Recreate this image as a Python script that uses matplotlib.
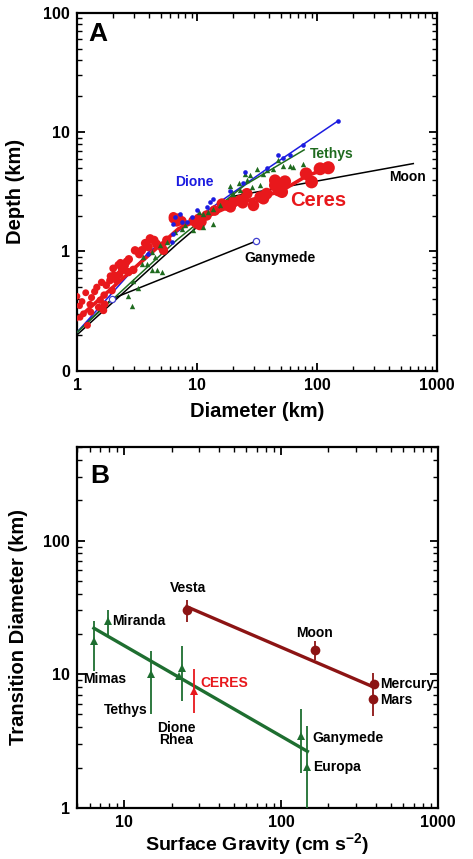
import numpy as np
import matplotlib.pyplot as plt
from matplotlib.ticker import LogLocator, NullFormatter

plt.rcParams['font.family'] = ['Liberation Sans', 'DejaVu Sans']
plt.rcParams['font.weight'] = 'bold'
plt.rcParams['axes.labelweight'] = 'bold'
plt.rcParams['mathtext.fontset'] = 'custom'
plt.rcParams['mathtext.rm'] = 'Liberation Sans:bold'
plt.rcParams['mathtext.default'] = 'rm'

# ---- panel A data: crater depth vs diameter (km) ----
ceres_D = [1.05, 1.06, 1.13, 1.22, 1.28, 1.32, 1.30, 1.46, 1.51, 1.56, 1.66, 1.68,
           1.88, 1.95, 2.03, 2.14, 2.21, 2.25, 2.36, 2.46, 2.59, 2.68, 2.94, 3.04,
           3.46, 4.06, 4.38, 3.93, 5.08, 5.25, 5.59, 6.35, 6.77, 7.45, 10.3, 9.9,
           10.5, 10.9, 9.3, 16.1, 17.7, 20.1, 22.8, 29.5, 26, 35.7, 38, 47.6, 51,
           44.6, 90, 44.6, 54, 81, 124, 106, 33.6,
           1.0, 1.1, 1.18, 1.4, 1.6, 1.75, 1.9, 2.0, 2.3, 2.5, 2.7, 1.7,
           3.3, 3.7, 4.6, 7.0, 12, 14, 19, 24, 6.35, 10.6]
ceres_depth = [0.35, 0.28, 0.30, 0.24, 0.36, 0.41, 0.31, 0.50, 0.34, 0.39, 0.32, 0.43,
               0.57, 0.47, 0.63, 0.57, 0.77, 0.64, 0.70, 0.70, 0.82, 0.67, 0.70, 1.02,
               1.02, 1.28, 1.24, 1.09, 1.09, 1.02, 1.24, 1.88, 1.77, 1.80, 1.88, 1.71,
               1.66, 1.77, 1.80, 2.51, 2.43, 2.59, 2.68, 2.43, 3.05, 2.77, 3.05, 3.25, 3.15,
               3.58, 3.82, 3.94, 3.86, 4.48, 5.03, 4.93, 2.86,
               0.42, 0.38, 0.45, 0.46, 0.55, 0.52, 0.62, 0.72, 0.80, 0.76, 0.86, 0.36,
               0.95, 1.17, 1.15, 1.90, 2.00, 2.20, 2.35, 2.55, 1.95, 1.77]

tethys_D = [2.85, 2.68, 3.24, 2.94, 3.81, 4.19, 4.61, 3.57, 4.47, 4.19, 4.92, 5.59,
            6.56, 7.45, 7.9, 9.3, 11.3, 13.7, 11.3, 10.3, 12.4, 13.7, 15.5, 20.1,
            22.8, 28.5, 33.4, 18.9, 22.5, 26, 27.8, 31.5, 35.7, 38, 43.2, 47.6,
            52.5, 59.5, 63.5, 77, 25, 19.4, 5.14, 3.46]
tethys_depth = [0.35, 0.42, 0.49, 0.57, 0.79, 0.70, 0.70, 0.90, 0.90, 0.99, 1.13, 1.20,
                1.46, 1.55, 1.66, 1.50, 1.60, 1.71, 2.07, 2.15, 2.15, 2.28, 2.43, 3.05,
                3.25, 3.47, 3.58, 3.56, 3.77, 3.94, 4.34, 4.93, 4.48, 4.78, 4.93, 5.79,
                5.19, 5.19, 5.13, 5.43, 4.43, 3.15, 0.67, 0.79]

dione_D = [149, 76, 47, 51.8, 59, 38.5, 25.1, 24, 18.9, 13.7, 12.8, 12.1, 9.9, 9.0,
           8.2, 7.2, 7.5, 6.6, 6.35, 6.3, 3.93, 6.15]
dione_depth = [12.4, 7.8, 6.45, 6.05, 6.45, 5.0, 4.63, 3.74, 3.19, 2.73, 2.59, 2.35,
               2.24, 1.94, 1.77, 2.07, 1.77, 1.94, 1.71, 1.41, 0.96, 1.19]

# fitted trends
ceres_fit_D = [1, 7, 20, 50, 82, 124]
ceres_fit_d = [0.27, 1.55, 2.45, 3.2, 4.3, 5.0]
tethys_fit_D = [1, 6.8, 25, 78]
tethys_fit_d = [0.21, 1.25, 3.6, 7.1]
dione_fit_D = [1, 4, 38, 149]
dione_fit_d = [0.21, 1.0, 4.9, 12.4]
moon_fit_D = [1, 6.8, 20, 634]
moon_fit_d = [0.2, 1.15, 2.9, 5.45]
gany_fit_D = [1, 1.95, 31]
gany_fit_d = [0.21, 0.40, 1.22]

# ---- panel B data: transition diameter vs surface gravity ----
icy_names = ['Mimas', 'Miranda', 'Tethys', 'Dione', 'Rhea', 'Ganymede', 'Europa']
icy_g = [6.4, 7.9, 14.7, 22.3, 23.4, 134, 147]
icy_T = [17.8, 24.9, 10.0, 9.7, 11.2, 3.44, 2.04]
icy_lo = [10.6, 19.4, 5.0, np.nan, 6.3, 1.84, 0.9]
icy_hi = [25.2, 30.0, 14.9, np.nan, 16.3, 5.5, 4.09]

ceres_g = [28]
ceres_T = [7.5]
ceres_lo = [5.1]
ceres_hi = [10.9]

rock_names = ['Vesta', 'Moon', 'Mercury', 'Mars']
rock_g = [25, 165, 389, 384]
rock_T = [30.4, 15.1, 8.5, 6.5]
rock_lo = [24.5, 12.8, np.nan, 4.9]
rock_hi = [36.0, 17.8, np.nan, 10.3]

icy_fit_g = [6.4, 147]
icy_fit_T = [22.1, 2.65]
rock_fit_g = [25, 372]
rock_fit_T = [32, 8.2]

red = '#e8181c'
blue = '#1c1ce0'
green = '#1f6b1f'
dgreen = '#1e6e30'
dred = '#8c1414'

fig = plt.figure(figsize=(4.73, 8.59), dpi=100)
axA = fig.add_axes([0.163, 0.5685, 0.761, 0.4165])
axB = fig.add_axes([0.163, 0.0594, 0.763, 0.4202])

def style(ax):
    ax.set_xscale('log')
    ax.set_yscale('log')
    for s in ax.spines.values():
        s.set_linewidth(1.6)
    ax.tick_params(which='both', direction='in', top=True, right=True, labelsize=11.5)
    ax.tick_params(which='major', length=6, width=1.3, pad=5)
    ax.tick_params(which='minor', length=3.5, width=1.0)
    ax.xaxis.set_minor_locator(LogLocator(base=10, subs=np.arange(2, 10)))
    ax.yaxis.set_minor_locator(LogLocator(base=10, subs=np.arange(2, 10)))
    ax.xaxis.set_minor_formatter(NullFormatter())
    ax.yaxis.set_minor_formatter(NullFormatter())

# panel A
style(axA)
axA.set_xlim(1, 1000)
axA.set_ylim(0.1, 100)
axA.plot(moon_fit_D, moon_fit_d, color='black', lw=1.1, zorder=2)
axA.plot(gany_fit_D, gany_fit_d, color='black', lw=1.1, zorder=2)
axA.plot(gany_fit_D[1:], gany_fit_d[1:], 'o', ms=4.5, mfc='white', mec='#4040d0', mew=0.9, zorder=5)
axA.plot(dione_fit_D, dione_fit_d, color=blue, lw=1.1, zorder=3)
axA.plot(tethys_fit_D, tethys_fit_d, color=green, lw=1.1, zorder=3)
sizes = 22 + 32 * np.log10(ceres_D)
axA.scatter(ceres_D, ceres_depth, s=sizes, color=red, lw=0, zorder=4)
axA.plot(ceres_fit_D, ceres_fit_d, color=red, lw=2.6, zorder=4)
axA.scatter(tethys_D, tethys_depth, s=15, marker='^', color=green, lw=0, zorder=5)
axA.scatter(dione_D, dione_depth, s=11, color=blue, lw=0, zorder=5)

axA.set_xticks([1, 10, 100, 1000])
axA.set_xticklabels(['1', '10', '100', '1000'])
axA.set_yticks([0.1, 1, 10, 100])
axA.set_yticklabels(['0', '1', '10', '100'])
axA.set_xlabel('Diameter (km)', fontsize=14.5, labelpad=7)
axA.set_ylabel('Depth (km)', fontsize=14.5)
axA.yaxis.set_label_coords(-0.145, 0.5)

axA.text(0.03, 0.94, 'A', transform=axA.transAxes, fontsize=19, fontweight='heavy', va='center')
axA.text(9.44, 3.82, 'Dione', color=blue, fontsize=10, ha='center', va='center')
axA.text(133, 6.6, 'Tethys', color=green, fontsize=10, ha='center', va='center')
axA.text(570, 4.2, 'Moon', color='black', fontsize=10, ha='center', va='center')
axA.text(103, 2.68, 'Ceres', color=red, fontsize=14.5, ha='center', va='center')
axA.text(49, 0.88, 'Ganymede', color='black', fontsize=10, ha='center', va='center')

# panel B
style(axB)
axB.set_xlim(5, 1000)
axB.set_ylim(1, 500)
axB.plot(icy_fit_g, icy_fit_T, color=dgreen, lw=2.4, zorder=2)
axB.plot(rock_fit_g, rock_fit_T, color=dred, lw=2.4, zorder=2)

def errbars(ax, g, T, lo, hi, color, marker, ms):
    g = np.array(g, float)
    T = np.array(T, float)
    lo = np.array(lo, float)
    hi = np.array(hi, float)
    ok = ~np.isnan(lo)
    ax.vlines(g[ok], lo[ok], hi[ok], color=color, lw=1.3, zorder=3)
    ax.plot(g, T, marker, color=color, ms=ms, mew=0, zorder=4)

errbars(axB, icy_g, icy_T, icy_lo, icy_hi, dgreen, '^', 5.5)
errbars(axB, ceres_g, ceres_T, ceres_lo, ceres_hi, red, '^', 6)
errbars(axB, rock_g, rock_T, rock_lo, rock_hi, dred, 'o', 7)

axB.set_xticks([10, 100, 1000])
axB.set_xticklabels(['10', '100', '1000'])
axB.set_yticks([1, 10, 100])
axB.set_yticklabels(['1', '10', '100'])
axB.set_xlabel('Surface Gravity (cm s$^{-2}$)', fontsize=14, labelpad=1)
axB.set_ylabel('Transition Diameter (km)', fontsize=14.5)
axB.yaxis.set_label_coords(-0.135, 0.5)

axB.text(0.037, 0.92, 'B', transform=axB.transAxes, fontsize=19, fontweight='heavy', va='center')
fs = 10
axB.text(25.4, 44, 'Vesta', fontsize=fs, ha='center', va='center')
axB.text(8.4, 24.9, 'Miranda', fontsize=fs, ha='left', va='center')
axB.text(163, 20.5, 'Moon', fontsize=fs, ha='center', va='center')
axB.text(5.45, 9.16, 'Mimas', fontsize=fs, ha='left', va='center')
axB.text(30.5, 8.66, 'CERES', fontsize=fs, color=red, ha='left', va='center')
axB.text(14.0, 5.36, 'Tethys', fontsize=fs, ha='right', va='center')
axB.text(21.4, 3.97, 'Dione', fontsize=fs, ha='center', va='center')
axB.text(21.4, 3.2, 'Rhea', fontsize=fs, ha='center', va='center')
axB.text(159, 3.34, 'Ganymede', fontsize=fs, ha='left', va='center')
axB.text(160, 2.01, 'Europa', fontsize=fs, ha='left', va='center')
axB.text(427, 8.5, 'Mercury', fontsize=fs, ha='left', va='center')
axB.text(427, 6.38, 'Mars', fontsize=fs, ha='left', va='center')

fig.savefig('out.png', dpi=100)
